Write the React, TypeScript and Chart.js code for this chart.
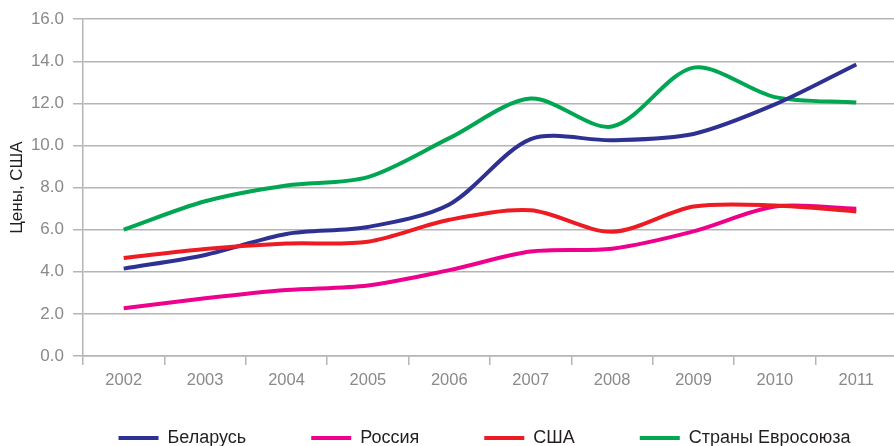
import React, { useEffect, useRef } from 'react';
import { Chart, registerables } from 'chart.js';

Chart.register(...registerables);

// Years on the category axis
const years = ['2002', '2003', '2004', '2005', '2006', '2007', '2008', '2009', '2010', '2011'];

// Prices per series
const belarus = [4.15, 4.8, 5.8, 6.13, 7.2, 10.3, 10.25, 10.55, 11.95, 13.85];
const russia = [2.27, 2.74, 3.13, 3.35, 4.08, 4.96, 5.1, 5.92, 7.1, 7.0];
const usa = [4.66, 5.08, 5.34, 5.43, 6.47, 6.92, 5.9, 7.1, 7.15, 6.87];
const eu = [6.0, 7.35, 8.1, 8.5, 10.35, 12.23, 10.9, 13.7, 12.3, 12.04];

// Value axis range and step
const yMin = 0;
const yMax = 16;
const yStep = 2;

const AXIS_GREY = '#b5b5b5';
const TICK_TEXT = '#8a8a8a';
const INK = '#231f20';
const FONT = '"Liberation Sans", Arial, Helvetica, sans-serif';

// Moves the legend row after layout
const legendOffset = {
  id: 'legendOffset',
  afterLayout(chart: any, _args: any, opts: any) {
    const legend = chart.legend;
    if (!legend || !opts) return;
    const dx = opts.dx || 0;
    const dy = opts.dy || 0;
    legend.left += dx;
    legend.right += dx;
    legend.top += dy;
    legend.bottom += dy;
  },
};

function series(label: string, data: number[], color: string, order: number) {
  return {
    label,
    data,
    borderColor: color,
    backgroundColor: color,
    borderWidth: 4,
    borderCapStyle: 'butt' as const,
    pointRadius: 0,
    pointHoverRadius: 0,
    tension: 0.3,
    fill: false,
    order,
  };
}

export default function App() {
  const canvasRef = useRef<HTMLCanvasElement>(null);

  useEffect(() => {
    if (!canvasRef.current) return;
    Chart.defaults.font.family = FONT;
    const chart = new Chart(canvasRef.current, {
      type: 'line',
      data: {
        labels: years,
        datasets: [
          series('Беларусь', belarus, '#2e3192', 1),
          series('Россия', russia, '#ec008c', 2),
          series('США', usa, '#ed1c24', 0),
          series('Страны Евросоюза', eu, '#00a651', 3),
        ],
      },
      options: {
        animation: false,
        responsive: false,
        devicePixelRatio: 1,
        layout: { padding: { top: 14, right: 3, left: 0, bottom: 0 } },
        plugins: {
          legendOffset: { dx: 36, dy: -24 },
          tooltip: { enabled: false },
          legend: {
            position: 'bottom',
            labels: {
              boxWidth: 40,
              boxHeight: 4,
              padding: 65,
              color: INK,
              font: { size: 18, family: FONT },
              sort: (a: any, b: any) => a.datasetIndex - b.datasetIndex,
              generateLabels: (c: any) =>
                (Chart.defaults.plugins.legend.labels as any)
                  .generateLabels(c)
                  .map((item: any) => ({ ...item, lineWidth: 0 })),
            },
          },
        } as any,
        scales: {
          x: {
            type: 'category',
            offset: true,
            afterFit: (s: any) => {
              s.height = 32;
            },
            grid: {
              offset: true,
              drawOnChartArea: false,
              drawTicks: true,
              tickLength: 9,
              color: AXIS_GREY,
              lineWidth: 1.5,
            },
            border: { display: true, color: AXIS_GREY, width: 1.5 },
            ticks: {
              color: TICK_TEXT,
              font: { size: 16.5, family: FONT },
              padding: 6,
              maxRotation: 0,
              autoSkip: false,
            },
          },
          y: {
            min: yMin,
            max: yMax,
            afterFit: (s: any) => {
              s.width = 83;
            },
            grid: {
              color: AXIS_GREY,
              lineWidth: 1.5,
              drawTicks: true,
              tickLength: 10,
            },
            border: { display: true, color: AXIS_GREY, width: 1.5 },
            ticks: {
              stepSize: yStep,
              color: TICK_TEXT,
              font: { size: 17, family: FONT },
              padding: 9,
              callback: (v: any) => Number(v).toFixed(1),
            },
            title: {
              display: true,
              text: 'Цены, США',
              color: INK,
              font: { size: 17, family: FONT },
              padding: { top: 7, bottom: 0 },
            },
          },
        },
      },
      plugins: [legendOffset],
    });
    return () => chart.destroy();
  }, []);

  return (
    <div
      style={{
        position: 'fixed',
        left: 0,
        top: 0,
        width: 894,
        height: 446,
        overflow: 'hidden',
        background: '#ffffff',
      }}
    >
      <canvas
        ref={canvasRef}
        width={900}
        height={481}
        style={{ display: 'block', width: 900, height: 481 }}
      />
    </div>
  );
}
